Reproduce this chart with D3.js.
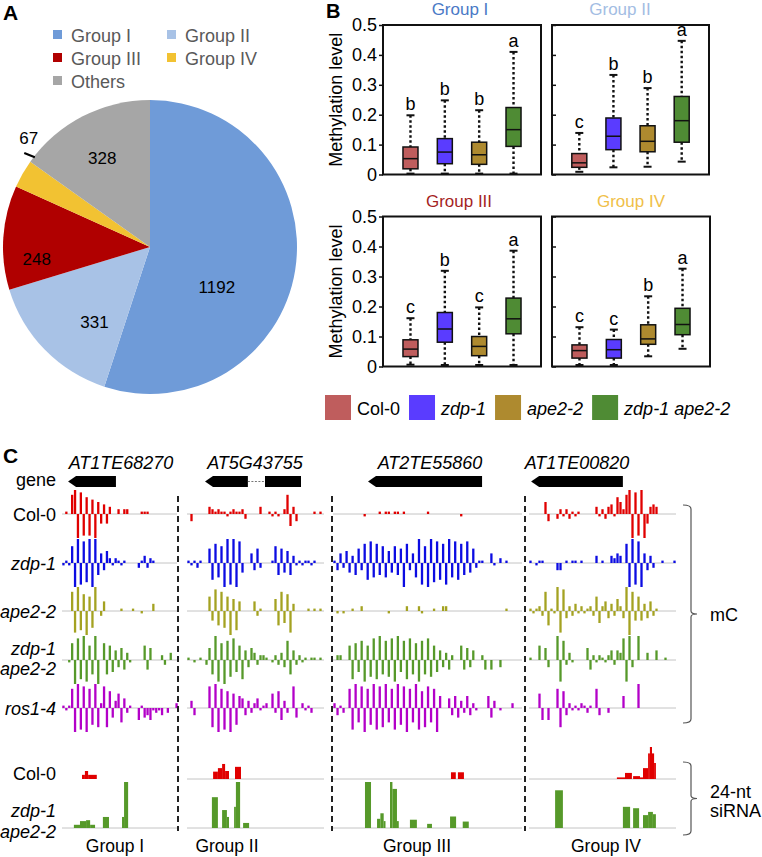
<!DOCTYPE html>
<html><head><meta charset="utf-8">
<script src="https://cdn.jsdelivr.net/npm/d3@7/dist/d3.min.js"></script>
<style>
html,body{margin:0;padding:0;background:#fff;}
svg{display:block;}
text{font-family:"Liberation Sans",Arial,Helvetica,sans-serif;}
</style></head>
<body><svg id="chart" width="762" height="857"></svg>
<script>
// ================= DATA =================
// Panel A
const pieGroups = ["Group I","Group II","Group III","Group IV","Others"];
const pieCounts = [1192, 331, 248, 67, 328];
const pieColors = ["#6f9bd8","#a8c2e6","#b00000","#f2c232","#a6a6a6"];

// Panel B : [lower whisker, Q1, median, Q3, upper whisker]
const genotypes = ["Col-0","zdp-1","ape2-2","zdp-1 ape2-2"];
const genoColors = ["#bf5d5d","#5a3cff","#ae8a2f","#4f8b34"];
const boxTitles = ["Group I","Group II","Group III","Group IV"];
const boxGroupI   = [[0.003,0.019,0.053,0.092,0.198],[0.003,0.036,0.075,0.120,0.248],[0.003,0.034,0.066,0.108,0.215],[0.003,0.094,0.150,0.224,0.410]];
const boxGroupII  = [[0.009,0.024,0.039,0.070,0.139],[0.024,0.083,0.128,0.189,0.333],[0.026,0.076,0.111,0.163,0.289],[0.043,0.108,0.180,0.261,0.447]];
const boxGroupIII = [[0.006,0.033,0.058,0.089,0.161],[0.005,0.081,0.125,0.180,0.319],[0.005,0.036,0.067,0.100,0.197],[0.005,0.109,0.159,0.228,0.386]];
const boxGroupIV  = [[0.005,0.028,0.053,0.072,0.131],[0.005,0.028,0.056,0.090,0.123],[0.034,0.074,0.092,0.139,0.234],[0.059,0.106,0.140,0.194,0.326]];
const sigGroupI   = ["b","b","b","a"];
const sigGroupII  = ["c","b","b","a"];
const sigGroupIII = ["c","b","c","a"];
const sigGroupIV  = ["c","c","b","a"];
const yTicks = [0,0.1,0.2,0.3,0.4,0.5];

// Panel C : methylation per bin (signed, -10..10), one array per locus
const locusNames = ["AT1TE68270","AT5G43755","AT2TE55860","AT1TE00820"];
const groupNames = ["Group I","Group II","Group III","Group IV"];
const mC_Col0 = [
 [0,1,0,8,10,-10,9,-9,7,-9,6,-10,5,-4,4,-4,3,0,0,2,0,2,2,0,0,0,0,1,1,1,0,0,0,0,0,0,0,0,0,0],
 [0,-3,0,0,0,0,0,3,2,1,2,1,1,-1,1,2,1,1,2,-2,0,0,0,0,3,0,0,1,-1,1,-1,0,2,8,-5,3,-3,0,0,0,0,0,1,0,1,0],
 [0,0,0,0,0,0,0,0,0,0,-1,0,0,0,0,1,0,1,1,0,1,1,0,1,0,0,0,0,0,0,0,1,0,0,0,0,0,0,0,0,0,0,-1,0,0,0,0,0,0,0,0,0,0,0,0,0,0,0,0,0],
 [0,0,0,0,0,5,-3,0,0,-2,2,-1,2,-2,1,-1,1,0,0,0,0,0,3,-1,2,-2,3,4,-1,7,5,2,8,10,-10,9,-9,10,-10,-4,3,4,3,0,0,0,0,0,0]
];
const mC_zdp1 = [
 [-1,1,-1,7,-10,10,-9,9,-8,10,-10,10,-5,4,-3,5,2,-1,2,1,-1,1,0,0,0,0,-2,1,3,-2,2,1,0,0,0,0,0,0,0,0],
 [1,-1,1,-2,1,0,0,6,-7,8,-6,7,-10,10,-9,10,-10,9,-4,0,0,4,-3,6,-2,0,0,0,1,7,-5,6,-4,5,-5,3,-1,1,-1,1,1,-1,1,0,0,0],
 [1,-3,4,-2,5,-4,3,-5,6,-3,8,-7,9,-6,8,-5,7,-6,5,-4,7,-5,6,-10,8,-3,4,-6,10,-9,7,-10,10,-8,9,-7,8,-9,10,-6,9,-7,8,-5,9,-4,6,-2,1,1,0,0,4,-1,0,2,0,1,0,0],
 [1,0,-1,1,1,0,0,0,0,-3,-3,0,1,0,1,1,0,1,0,0,0,0,3,0,1,0,0,3,2,4,3,0,8,-10,10,-9,9,-10,4,-3,3,-2,0,0,1,0,0,0,1]
];
const mC_ape22 = [
 [0,0,0,8,-9,10,-8,7,-10,6,-7,10,0,-2,4,0,0,0,0,0,1,0,0,0,1,0,0,-1,0,0,0,3,0,0,0,0,0,0,0,0],
 [0,0,0,0,0,0,0,6,-4,9,-6,8,-7,6,-10,5,-8,4,0,0,0,0,4,-2,1,0,0,0,0,5,-6,8,-5,7,-9,3,0,0,0,0,1,0,1,0,1,0],
 [0,-1,0,-1,0,0,1,0,0,2,0,0,0,0,0,0,0,0,-1,0,0,0,0,0,2,0,0,0,2,-1,0,0,0,1,0,0,2,2,0,0,0,0,0,0,0,0,0,0,0,0,0,0,0,0,0,0,0,1,0,0],
 [1,-1,1,2,-2,8,-6,1,-1,10,-9,9,-3,2,-2,3,-1,2,-1,1,2,-2,6,-5,2,4,-3,3,-2,5,2,-3,10,-10,8,-4,6,-4,3,-3,4,-2,1,0,0,0,0,0,0]
];
const mC_dbl = [
 [0,0,-1,7,-10,9,-8,10,-9,6,-6,10,-10,0,7,-6,6,-5,4,-3,5,-4,3,-1,0,0,0,0,6,-4,5,0,0,0,2,-2,0,3,0,0],
 [1,0,-1,0,1,0,-2,5,-6,10,-9,7,-10,8,-7,9,-5,6,-8,4,-3,5,3,-2,2,2,1,0,-1,2,-2,3,-3,8,-6,4,-2,2,-1,1,0,1,1,0,1,0],
 [0,2,2,0,0,6,-8,7,-5,8,-9,6,-7,9,-8,10,-6,8,-7,9,-9,10,-5,8,-8,9,-6,7,-9,8,-6,9,-7,6,-5,4,-3,3,-4,2,0,0,6,-4,5,-3,4,0,0,2,-4,0,-4,0,0,-3,0,0,0,0],
 [1,0,0,6,0,5,-3,0,0,10,-9,8,-2,3,-1,0,0,0,0,5,-4,2,-1,2,1,-1,2,4,-2,4,3,9,-9,10,-3,0,10,0,0,3,0,0,4,0,0,1,0,0,0]
];
const mC_ros14 = [
 [1,-1,1,8,-10,10,-9,9,-10,8,-7,10,-8,2,9,-8,7,-4,3,6,-6,4,-2,1,0,0,-5,1,-4,-3,-5,-1,-2,-1,-3,0,-2,0,0,2],
 [0,3,-3,0,0,0,0,9,-8,10,-10,8,-9,7,-10,6,-7,5,4,-3,3,-2,2,4,-1,1,2,0,6,-2,7,-5,3,-2,0,9,-4,0,2,-1,1,-2,0,0,0,0],
 [2,-3,1,-2,0,8,-9,10,-6,9,-10,8,-7,10,-9,9,-8,10,-6,8,-9,10,-7,9,-10,8,-6,10,-9,7,-8,9,-6,8,-10,5,0,0,4,-3,5,-4,3,-2,5,-3,2,-1,0,0,0,5,-4,3,0,-1,0,0,0,2],
 [0,0,0,6,-5,0,-5,0,0,8,-8,7,-3,2,-1,1,-1,2,1,-2,1,0,8,-3,0,0,-2,0,0,0,0,5,0,0,0,0,10,0,0,0,0,0,0,0,0,0,0,0,0]
];
// 24-nt siRNA: [startBin, endBin, level 0..10]
const si_Col0 = [
 [[6.9,7.9,1.3],[7.9,9,2.5],[9,12,1.3]],
 [[8.7,10.3,2.3],[10.3,11.7,3.4],[11.7,12.7,4.7],[12.7,14,2.5],[16,18,3.8]],
 [[39.1,40.7,2.1],[41.4,43.4,2.1]],
 [[29.3,32,0.5],[32,34.3,1.9],[34.7,37,0.9],[37,38,0.5],[38,39.7,3.4],[39.7,40.3,8],[40.3,41,10],[41,41.7,8],[41.7,42.3,5]]
];
const si_dbl = [
 [[4.1,6.2,0.7],[6.2,8.3,1.5],[8.3,9.7,1.7],[9.7,11.4,0.7],[14.1,16.2,2.4],[20.7,21.4,2.4],[21.4,22.8,10]],
 [[8.3,10.3,6.7],[11.7,13.3,3.9],[13.3,14,2.4],[15.7,16.3,4.6],[16.3,17.7,10],[18.7,20.7,1.1]],
 [[10.6,12.6,10],[14.6,15.7,2],[15.7,16.8,3.2],[16.8,17.4,1.5],[18.9,19.7,10],[19.7,21.2,8.5],[21.2,21.8,1.5],[25.5,27.8,1.8],[31.2,32.8,0.9],[38.8,40.8,2.5],[43,45,1.4]],
 [[8.7,11.3,8.2],[31.3,33.7,4.6],[34.7,36.7,4.3],[38,39.7,2.8],[39.7,41.3,3.5],[41.3,42.3,3]]
];
// gene models (bin units), minus strand
const geneExons = [
 [[2.1,18.6]],
 [[6,20.3],[26,38]],
 [[11.6,49.4]],
 [[0.7,31.3]]
];

// ================= DRAW =================
const svg = d3.select("#chart");
const ITAL = "italic";

// ---------- Panel A ----------
svg.append("text").attr("x",3).attr("y",20).attr("font-size",21).attr("font-weight","bold").text("A");
const legA = svg.append("g").attr("font-size",18).attr("fill","#595959");
pieGroups.forEach((g,i)=>{
  const col = i%2, row = Math.floor(i/2);
  const lx = 53 + col*114, ly = 42 + row*23;
  legA.append("rect").attr("x",lx).attr("y",ly-12).attr("width",9).attr("height",9).attr("fill",pieColors[i]);
  legA.append("text").attr("x",lx+18).attr("y",ly).attr("fill","#595959").text(g);
});
const pieR = 147;
const gA = svg.append("g").attr("transform","translate(150,247)");
const arcs = d3.pie().sort(null).value(d=>d)(pieCounts);
const arcGen = d3.arc().innerRadius(0).outerRadius(pieR);
gA.selectAll("path.sl").data(arcs).join("path").attr("class","sl").attr("d",arcGen).attr("fill",(d,i)=>pieColors[i]);
// label placement (angle offset in degrees from slice middle, radius)
const pieLabelPos = [[22,78],[-9,93],[-10,114],[12,163],[-1,101]];
arcs.forEach((d,i)=>{
  const mid = (d.startAngle+d.endAngle)/2 + pieLabelPos[i][0]*Math.PI/180;
  const r = pieLabelPos[i][1];
  gA.append("text").attr("x",r*Math.sin(mid)).attr("y",-r*Math.cos(mid)+6)
    .attr("text-anchor","middle").attr("font-size",17).attr("fill","#000").text(d.data);
  if(i===3){
    const a = mid - 4*Math.PI/180;
    gA.append("line").attr("x1",146*Math.sin(a)).attr("y1",-146*Math.cos(a))
      .attr("x2",157*Math.sin(a-0.02)).attr("y2",-157*Math.cos(a-0.02)).attr("stroke","#000").attr("stroke-width",2);
  }
});

// ---------- Panel B ----------
svg.append("text").attr("x",326).attr("y",18).attr("font-size",20).attr("font-weight","bold").text("B");
const boxPanels = [
 {title:boxTitles[0], tcol:"#4a79c6", data:boxGroupI,   sig:sigGroupI,   x0:383, x1:541, yt:25,  yb:174.5, left:true,  tx:460},
 {title:boxTitles[1], tcol:"#a3bde3", data:boxGroupII,  sig:sigGroupII,  x0:552, x1:709, yt:25,  yb:174.5, left:false, tx:620},
 {title:boxTitles[2], tcol:"#a51f1f", data:boxGroupIII, sig:sigGroupIII, x0:383, x1:541, yt:216.5, yb:366.5, left:true, tx:459},
 {title:boxTitles[3], tcol:"#f0c048", data:boxGroupIV,  sig:sigGroupIV,  x0:552, x1:710, yt:216.5, yb:366.5, left:false, tx:631}
];
boxPanels.forEach(p=>{
  const g = svg.append("g");
  const x = d3.scalePoint().domain(genotypes).range([p.x0,p.x1]).padding(0.8);
  const y = d3.scaleLinear().domain([0,0.5]).range([p.yb,p.yt]);
  g.append("text").attr("x",p.tx).attr("y",p.yt-10).attr("text-anchor","middle").attr("font-size",17).attr("fill",p.tcol).text(p.title);
  if(p.left){
    const ax = g.append("g").attr("transform",`translate(${p.x0},0)`)
      .call(d3.axisLeft(y).tickValues(yTicks).tickSize(4).tickSizeOuter(0).tickPadding(2).tickFormat(d=>d===0?"0":d3.format(".1f")(d)));
    ax.select(".domain").remove();
    ax.selectAll("line").attr("stroke","#111").attr("stroke-width",1.5);
    ax.selectAll("text").attr("font-size",18).attr("fill","#000").attr("font-family",'"Liberation Sans",Arial,sans-serif');
    g.append("text").attr("transform",`translate(342,${(p.yt+p.yb)/2}) rotate(-90)`).attr("text-anchor","middle").attr("font-size",18).text("Methylation level");
  } else {
    const ax = g.append("g").attr("transform",`translate(${p.x0},0)`)
      .call(d3.axisRight(y).tickValues(yTicks).tickSize(4).tickSizeOuter(0).tickFormat(""));
    ax.select(".domain").remove();
    ax.selectAll("line").attr("stroke","#111").attr("stroke-width",1.5);
  }
  g.append("rect").attr("x",p.x0).attr("y",p.yt).attr("width",p.x1-p.x0).attr("height",p.yb-p.yt)
    .attr("fill","none").attr("stroke","#111").attr("stroke-width",2);
  p.data.forEach((s,i)=>{
    const cx = x(genotypes[i]);
    const [lo,q1,md,q3,hi] = s;
    const bw = 15, cw = 8;
    g.append("line").attr("x1",cx).attr("x2",cx).attr("y1",y(hi)).attr("y2",y(q3)).attr("stroke","#111").attr("stroke-width",2.4).attr("stroke-dasharray","2.5,2.5");
    g.append("line").attr("x1",cx).attr("x2",cx).attr("y1",y(q1)).attr("y2",y(lo)).attr("stroke","#111").attr("stroke-width",2.4).attr("stroke-dasharray","2.5,2.5");
    [hi,lo].forEach(v=>g.append("line").attr("x1",cx-cw/2).attr("x2",cx+cw/2).attr("y1",y(v)).attr("y2",y(v)).attr("stroke","#111").attr("stroke-width",2));
    g.append("rect").attr("x",cx-bw/2).attr("width",bw).attr("y",y(q3)).attr("height",y(q1)-y(q3))
      .attr("fill",genoColors[i]).attr("stroke","#111").attr("stroke-width",1.5);
    g.append("line").attr("x1",cx-bw/2).attr("x2",cx+bw/2).attr("y1",y(md)).attr("y2",y(md)).attr("stroke","#111").attr("stroke-width",1.5);
    g.append("text").attr("x",cx).attr("y",y(hi)-5).attr("text-anchor","middle").attr("font-size",18).text(p.sig[i]);
  });
});
// legend B
{
  let lx = 325;
  genotypes.forEach((gname,i)=>{
    svg.append("rect").attr("x",lx).attr("y",395).attr("width",26).attr("height",25).attr("fill",genoColors[i]);
    const t = svg.append("text").attr("x",lx+32).attr("y",415).attr("font-size",18)
      .attr("font-style", i===0 ? "normal" : ITAL).text(gname);
    lx += 32 + t.node().getComputedTextLength() + 9;
  });
}

// ---------- Panel C ----------
svg.append("text").attr("x",3).attr("y",463).attr("font-size",21).attr("font-weight","bold").text("C");
const regions = [
 {x0:62,  binW:2.9,   n:40, lineEnd:177, nameX:121, groupX:115},
 {x0:187, binW:3.0,   n:46, lineEnd:324, nameX:255, groupX:227},
 {x0:333, binW:3.017, n:60, lineEnd:522, nameX:430, groupX:417},
 {x0:529, binW:3.0,   n:49, lineEnd:676, nameX:577, groupX:606}
];
regions.forEach(r=>{ r.xs = d3.scaleLinear().domain([0,r.n]).range([r.x0, r.x0 + r.n*r.binW]); });

// gene names + models
const geneY = 481.5, geneH = 11, tipL = 8;
regions.forEach((r,ri)=>{
  svg.append("text").attr("x",r.nameX).attr("y",469).attr("text-anchor","middle").attr("font-size",18).attr("font-style",ITAL).text(locusNames[ri]);
  const ex = geneExons[ri];
  ex.forEach((e,k)=>{
    const a = r.xs(e[0]), b = r.xs(e[1]);
    if(k===0){
      svg.append("path").attr("d",`M${a},${geneY} L${a+tipL},${geneY-geneH/2} L${b},${geneY-geneH/2} L${b},${geneY+geneH/2} L${a+tipL},${geneY+geneH/2} Z`).attr("fill","#000");
    } else {
      svg.append("rect").attr("x",a).attr("y",geneY-geneH/2).attr("width",b-a).attr("height",geneH).attr("fill","#000");
    }
    if(k>0){
      const pa = r.xs(ex[k-1][1]);
      svg.append("line").attr("x1",pa).attr("x2",a).attr("y1",geneY).attr("y2",geneY).attr("stroke","#777").attr("stroke-width",1).attr("stroke-dasharray","2,1.5");
    }
  });
});
svg.append("text").attr("x",56).attr("y",486).attr("text-anchor","end").attr("font-size",18).text("gene");

// mC tracks
const mcTracks = [
 {label:["Col-0"], ital:false, data:mC_Col0, color:"#e00000", y:514},
 {label:["zdp-1"], ital:true, data:mC_zdp1, color:"#0c0ce2", y:563},
 {label:["ape2-2"], ital:true, data:mC_ape22, color:"#a4a221", y:611},
 {label:["zdp-1","ape2-2"], ital:true, data:mC_dbl, color:"#56992a", y:660},
 {label:["ros1-4"], ital:true, data:mC_ros14, color:"#b300c8", y:708}
];
const amp = d3.scaleLinear().domain([0,10]).range([0,24]);
mcTracks.forEach(t=>{
  regions.forEach((r,ri)=>{
    svg.append("line").attr("x1",r.x0).attr("x2",r.lineEnd).attr("y1",t.y).attr("y2",t.y).attr("stroke","#c4c4c4").attr("stroke-width",1);
    const g = svg.append("g").attr("fill",t.color);
    t.data[ri].forEach((v,i)=>{
      if(v===0) return;
      const cx = r.xs(i+0.5);
      g.append("rect").attr("x",cx-1.15).attr("width",2.3)
        .attr("y", v>0 ? t.y-amp(v) : t.y).attr("height",amp(Math.abs(v)));
    });
  });
  if(t.label.length===1){
    svg.append("text").attr("x",56).attr("y",t.y+7).attr("text-anchor","end").attr("font-size",18).attr("font-style",t.ital?ITAL:"normal").text(t.label[0]);
  } else {
    svg.append("text").attr("x",56).attr("y",t.y-5).attr("text-anchor","end").attr("font-size",18).attr("font-style",ITAL).text(t.label[0]);
    svg.append("text").attr("x",56).attr("y",t.y+15).attr("text-anchor","end").attr("font-size",18).attr("font-style",ITAL).text(t.label[1]);
  }
});

// siRNA tracks
const siTracks = [
 {data:si_Col0, color:"#e00000", y:779, h:32, lineRegions:[1,2,3]},
 {data:si_dbl,  color:"#56992a", y:828, h:46, lineRegions:[0,1,2,3]}
];
siTracks.forEach(t=>{
  const hs = d3.scaleLinear().domain([0,10]).range([0,t.h]);
  regions.forEach((r,ri)=>{
    if(t.lineRegions.includes(ri))
      svg.append("line").attr("x1",r.x0).attr("x2",r.lineEnd).attr("y1",t.y).attr("y2",t.y).attr("stroke","#c4c4c4").attr("stroke-width",1);
    t.data[ri].forEach(s=>{
      svg.append("rect").attr("x",r.xs(s[0])).attr("width",r.xs(s[1])-r.xs(s[0]))
        .attr("y",t.y-hs(s[2])).attr("height",hs(s[2])).attr("fill",t.color);
    });
  });
});
svg.append("text").attr("x",56).attr("y",780).attr("text-anchor","end").attr("font-size",18).text("Col-0");
svg.append("text").attr("x",56).attr("y",817).attr("text-anchor","end").attr("font-size",18).attr("font-style",ITAL).text("zdp-1");
svg.append("text").attr("x",56).attr("y",838).attr("text-anchor","end").attr("font-size",18).attr("font-style",ITAL).text("ape2-2");

// dashed separators
[178,332,525].forEach(xv=>{
  svg.append("line").attr("x1",xv).attr("x2",xv).attr("y1",496).attr("y2",831).attr("stroke","#222").attr("stroke-width",2).attr("stroke-dasharray","6,4");
});
// group labels
regions.forEach((r,ri)=>{
  svg.append("text").attr("x",r.groupX).attr("y",852).attr("text-anchor","middle").attr("font-size",17.5).text(groupNames[ri]);
});
// brackets
function bracket(y0,y1){
  const ym=(y0+y1)/2;
  svg.append("path").attr("d",`M683,${y0} Q691,${y0} 691,${y0+4} L691,${ym-3} Q691,${ym} 697,${ym} Q691,${ym} 691,${ym+3} L691,${y1-4} Q691,${y1} 683,${y1}`)
    .attr("fill","none").attr("stroke","#555").attr("stroke-width",1.2);
}
bracket(505,723);
bracket(762,835);
svg.append("text").attr("x",710).attr("y",621).attr("font-size",18).text("mC");
svg.append("text").attr("x",710).attr("y",798).attr("font-size",18).text("24-nt");
svg.append("text").attr("x",710).attr("y",817).attr("font-size",18).text("siRNA");
</script></body></html>
